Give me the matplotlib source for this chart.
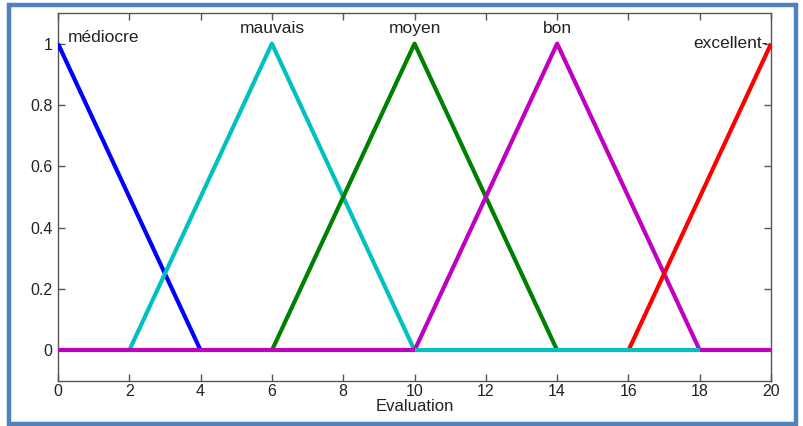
import numpy as np
import matplotlib
matplotlib.use("Agg")
import matplotlib.pyplot as plt
from matplotlib.patches import Rectangle

plt.rcParams['font.family'] = ['Liberation Sans', 'DejaVu Sans']

# membership functions (triangles) on the Evaluation universe
names = ["médiocre", "mauvais", "moyen", "bon", "excellent"]
params = [[0, 0, 4], [2, 6, 10], [6, 10, 14], [10, 14, 18], [16, 20, 20]]
colors = ["#0000ff", "#00c0c0", "#008000", "#c000c0", "#ff0000"]

x_range = [0, 20]
x_ticks = [0, 2, 4, 6, 8, 10, 12, 14, 16, 18, 20]
y_ticks = [0, 0.2, 0.4, 0.6, 0.8, 1]

# which curve is visible on the zero baseline
baseline = [("bon", 0, 10), ("mauvais", 10, 18), ("bon", 18, 20)]


def trimf(x, a, b, c):
    y = np.zeros_like(x, dtype=float)
    if b > a:
        m = (x >= a) & (x <= b)
        y[m] = (x[m] - a) / (b - a)
    if c > b:
        m = (x >= b) & (x <= c)
        y[m] = (c - x[m]) / (c - b)
    y[x == b] = 1.0
    return y


fig = plt.figure(figsize=(8.04, 4.26), dpi=100)
ax = fig.add_axes([0.0721, 0.1056, 0.887, 0.864])

for name, p, col in zip(names, params, colors):
    a, b, c = p
    xs = np.array(sorted(set([a, b, c])), dtype=float)
    ax.plot(xs, trimf(xs, a, b, c), color=col, lw=3, zorder=3,
            solid_capstyle='butt')

for name, x0, x1 in baseline:
    col = colors[names.index(name)]
    ax.plot([x0, x1], [0, 0], color=col, lw=3, zorder=4, solid_capstyle='butt')

# labels
lab_kw = dict(fontsize=12.5, color='#222222')
ax.text(0.28, 1.02, names[0], ha='left', va='center', **lab_kw)
for i in range(1, 4):
    ax.text(params[i][1], 1.05, names[i], ha='center', va='center', **lab_kw)
ax.text(19.9, 1.0, names[4] + "-", ha='right', va='center', **lab_kw)

ax.set_xlim(x_range)
ax.set_ylim(-0.1, 1.1)
ax.set_xticks(x_ticks)
ax.set_yticks(y_ticks)
ax.set_yticklabels(["0", "0.2", "0.4", "0.6", "0.8", "1"])
ax.tick_params(direction='in', top=True, right=True, length=5, width=1,
               color='#555555', labelsize=11.5, labelcolor='#222222', pad=4)
ax.tick_params(axis='x', pad=2)
for s in ax.spines.values():
    s.set_color('#555555')
    s.set_linewidth(1)
ax.set_xlabel("Evaluation", fontsize=12, color='#222222', labelpad=0)

# blue frame around the picture
fig.patches.append(Rectangle((9.5 / 804, 1 - 424 / 426), 787 / 804, 419.5 / 426,
                             transform=fig.transFigure, fill=False,
                             edgecolor='#4f81bd', lw=3.2))

fig.savefig("out.png", dpi=100)
